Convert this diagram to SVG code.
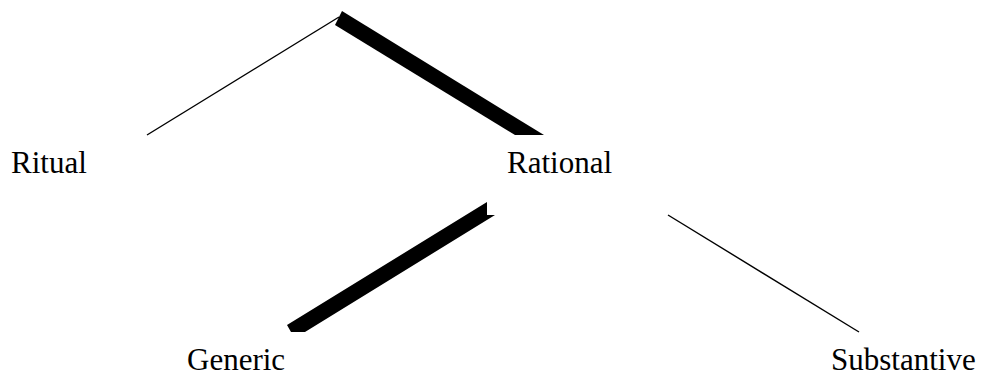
<svg xmlns="http://www.w3.org/2000/svg" width="981" height="374" viewBox="0 0 981 374">
<style>
.lbl{font-family:"Liberation Serif","Times New Roman",serif;font-size:31px;fill:#000}
.thin{stroke:#000;stroke-width:1.4;fill:none}
.thick{fill:#000;stroke:none}
</style>
<rect width="981" height="374" fill="#fff"/>
<g id="connectors">
<line class="thin" x1="147" y1="135" x2="339" y2="17"/>
<polygon class="thick" points="342,11 544,135 515,135 335,25"/>
<polygon class="thick" points="487,202 487,215 495,215 305,332 291,332 287,325"/>
<line class="thin" x1="668" y1="215" x2="859" y2="332"/>
</g>
<g id="node-ritual"><text class="lbl" x="11" y="173">Ritual</text></g>
<g id="node-rational"><text class="lbl" x="507" y="173">Rational</text></g>
<g id="node-generic"><text class="lbl" x="187" y="370">Generic</text></g>
<g id="node-substantive"><text class="lbl" x="831" y="370">Substantive</text></g>
</svg>
